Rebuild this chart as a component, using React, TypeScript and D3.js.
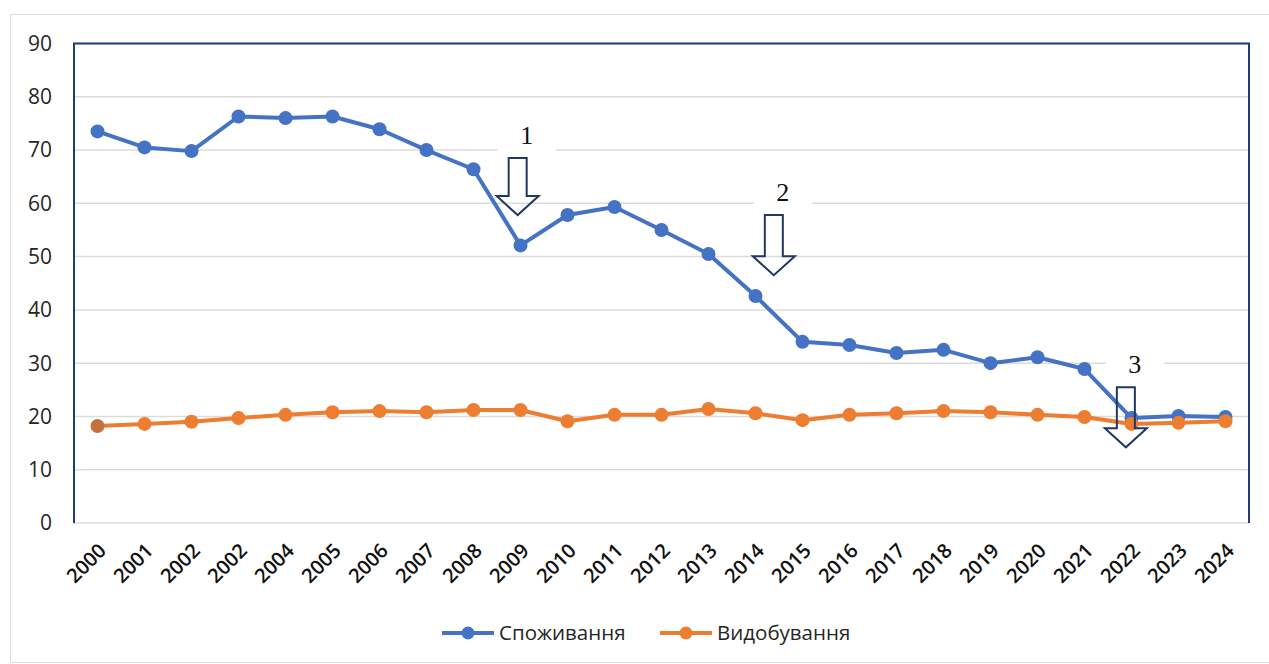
import React, { useEffect, useRef } from "react";
import * as d3 from "d3";

const years = [
  "2000", "2001", "2002", "2002", "2004", "2005", "2006", "2007", "2008", "2009",
  "2010", "2011", "2012", "2013", "2014", "2015", "2016", "2017", "2018", "2019",
  "2020", "2021", "2022", "2023", "2024",
];

// Споживання
const consumption = [
  73.5, 70.5, 69.8, 76.3, 76.0, 76.3, 73.9, 70.0, 66.4, 52.1,
  57.8, 59.3, 55.0, 50.5, 42.6, 34.0, 33.4, 31.9, 32.5, 30.0,
  31.1, 28.9, 19.7, 20.1, 19.9,
];

// Видобування
const production = [
  18.2, 18.6, 19.0, 19.7, 20.3, 20.8, 21.0, 20.8, 21.2, 21.2,
  19.1, 20.3, 20.3, 21.4, 20.6, 19.3, 20.3, 20.6, 21.0, 20.8,
  20.3, 19.9, 18.6, 18.8, 19.1,
];

const yTicks = [0, 10, 20, 30, 40, 50, 60, 70, 80, 90];

// annotation arrows: label, category index (fractional), top value, tip value
const arrows = [
  { label: "1", at: 8.94, top: 68.5, tip: 57.8 },
  { label: "2", at: 14.39, top: 57.8, tip: 46.5 },
  { label: "3", at: 21.88, top: 25.5, tip: 14.2 },
];

const series = [
  { name: "Споживання", values: consumption, color: "#4472C4" },
  { name: "Видобування", values: production, color: "#ED7D31" },
];

function Chart() {
  const ref = useRef<SVGSVGElement>(null);

  useEffect(() => {
    const width = 1269;
    const height = 664;
    const left = 74, right = 1249, top = 43.5, bottom = 523;
    const font = "Open Sans, Liberation Sans, sans-serif";

    const svg = d3.select(ref.current);
    svg.selectAll("*").remove();
    svg.attr("width", width).attr("height", height);

    svg.append("rect")
      .attr("x", 10.5).attr("y", 14.5)
      .attr("width", 1270).attr("height", 648)
      .attr("fill", "#fff")
      .attr("stroke", "#DDDDDD");

    const x = d3.scaleBand<number>()
      .domain(d3.range(years.length))
      .range([left, right]);
    const cx = (i: number) => left + x.step() * (i + 0.5);

    const y = d3.scaleLinear().domain([0, 90]).range([bottom, top]);

    // gridlines
    svg.append("g")
      .selectAll("line")
      .data(yTicks)
      .join("line")
      .attr("x1", left).attr("x2", right)
      .attr("y1", (d) => y(d)).attr("y2", (d) => y(d))
      .attr("stroke", "#DCDCDC")
      .attr("stroke-width", 1.5);

    // y tick labels
    svg.append("g")
      .selectAll("text")
      .data(yTicks)
      .join("text")
      .attr("x", 52)
      .attr("y", (d) => y(d))
      .attr("dy", "0.35em")
      .attr("text-anchor", "end")
      .attr("font-family", font)
      .attr("font-size", 21)
      .attr("fill", "#262626")
      .text((d) => d);

    // x tick labels
    svg.append("g")
      .selectAll("text")
      .data(years)
      .join("text")
      .attr("transform", (d, i) => `translate(${cx(i) + 5},${bottom + 24}) rotate(-45)`)
      .attr("text-anchor", "end")
      .attr("dy", "0.35em")
      .attr("font-family", font)
      .attr("font-weight", 600)
      .attr("font-size", 20)
      .attr("fill", "#111")
      .text((d) => d);

    // plot frame (no bottom edge)
    svg.append("path")
      .attr("d", `M${left},${bottom} V${top} H${right} V${bottom}`)
      .attr("fill", "none")
      .attr("stroke", "#1F3A7E")
      .attr("stroke-width", 2);

    const line = d3.line<number>()
      .x((d, i) => cx(i))
      .y((d) => y(d));

    // label backgrounds + labels
    const ann = svg.append("g");
    arrows.forEach((a) => {
      const ax = cx(a.at);
      const ly = y(a.top) - 14;
      ann.append("rect")
        .attr("x", ax - 20).attr("y", ly - 24)
        .attr("width", 58).attr("height", 36)
        .attr("fill", "#fff");
    });

    series.forEach((s) => {
      svg.append("path")
        .datum(s.values)
        .attr("d", line)
        .attr("fill", "none")
        .attr("stroke", s.color)
        .attr("stroke-width", 4)
        .attr("stroke-linejoin", "round");
      svg.append("g")
        .selectAll("circle")
        .data(s.values)
        .join("circle")
        .attr("cx", (d, i) => cx(i))
        .attr("cy", (d) => y(d))
        .attr("r", 7)
        .attr("fill", (d, i) => (s.name === "Видобування" && i === 0 ? "#C4713F" : s.color));
    });

    arrows.forEach((a) => {
      const ax = cx(a.at);
      const yt = y(a.top);
      const tip = y(a.tip);
      const base = tip - 19;
      const sw = 9, hw = 21;
      ann.append("path")
        .attr("d", `M${ax - sw},${yt} H${ax + sw} V${base} H${ax + hw} L${ax},${tip} L${ax - hw},${base} H${ax - sw} Z`)
        .attr("fill", "none")
        .attr("stroke", "#1F3864")
        .attr("stroke-width", 2);
      ann.append("text")
        .attr("x", ax + 9)
        .attr("y", yt - 14)
        .attr("text-anchor", "middle")
        .attr("font-family", "Liberation Serif, Times New Roman, serif")
        .attr("font-size", 26)
        .attr("fill", "#111")
        .text(a.label);
    });
    ann.raise();

    // legend
    const legend = svg.append("g").attr("transform", "translate(442,633)");
    const offsets = [0, 218];
    series.forEach((s, i) => {
      const g = legend.append("g").attr("transform", `translate(${offsets[i]},0)`);
      g.append("line")
        .attr("x1", 0).attr("x2", 52)
        .attr("stroke", s.color).attr("stroke-width", 4);
      g.append("circle").attr("cx", 26).attr("r", 6.5).attr("fill", s.color);
      g.append("text")
        .attr("x", 57)
        .attr("dy", "0.35em")
        .attr("font-family", font)
        .attr("font-size", 20.5)
        .attr("fill", "#262626")
        .text(s.name);
    });
  }, []);

  return (
    <svg ref={ref} style={{ position: "absolute", left: 0, top: 0, display: "block" }} />
  );
}

export default function App() {
  return <Chart />;
}
